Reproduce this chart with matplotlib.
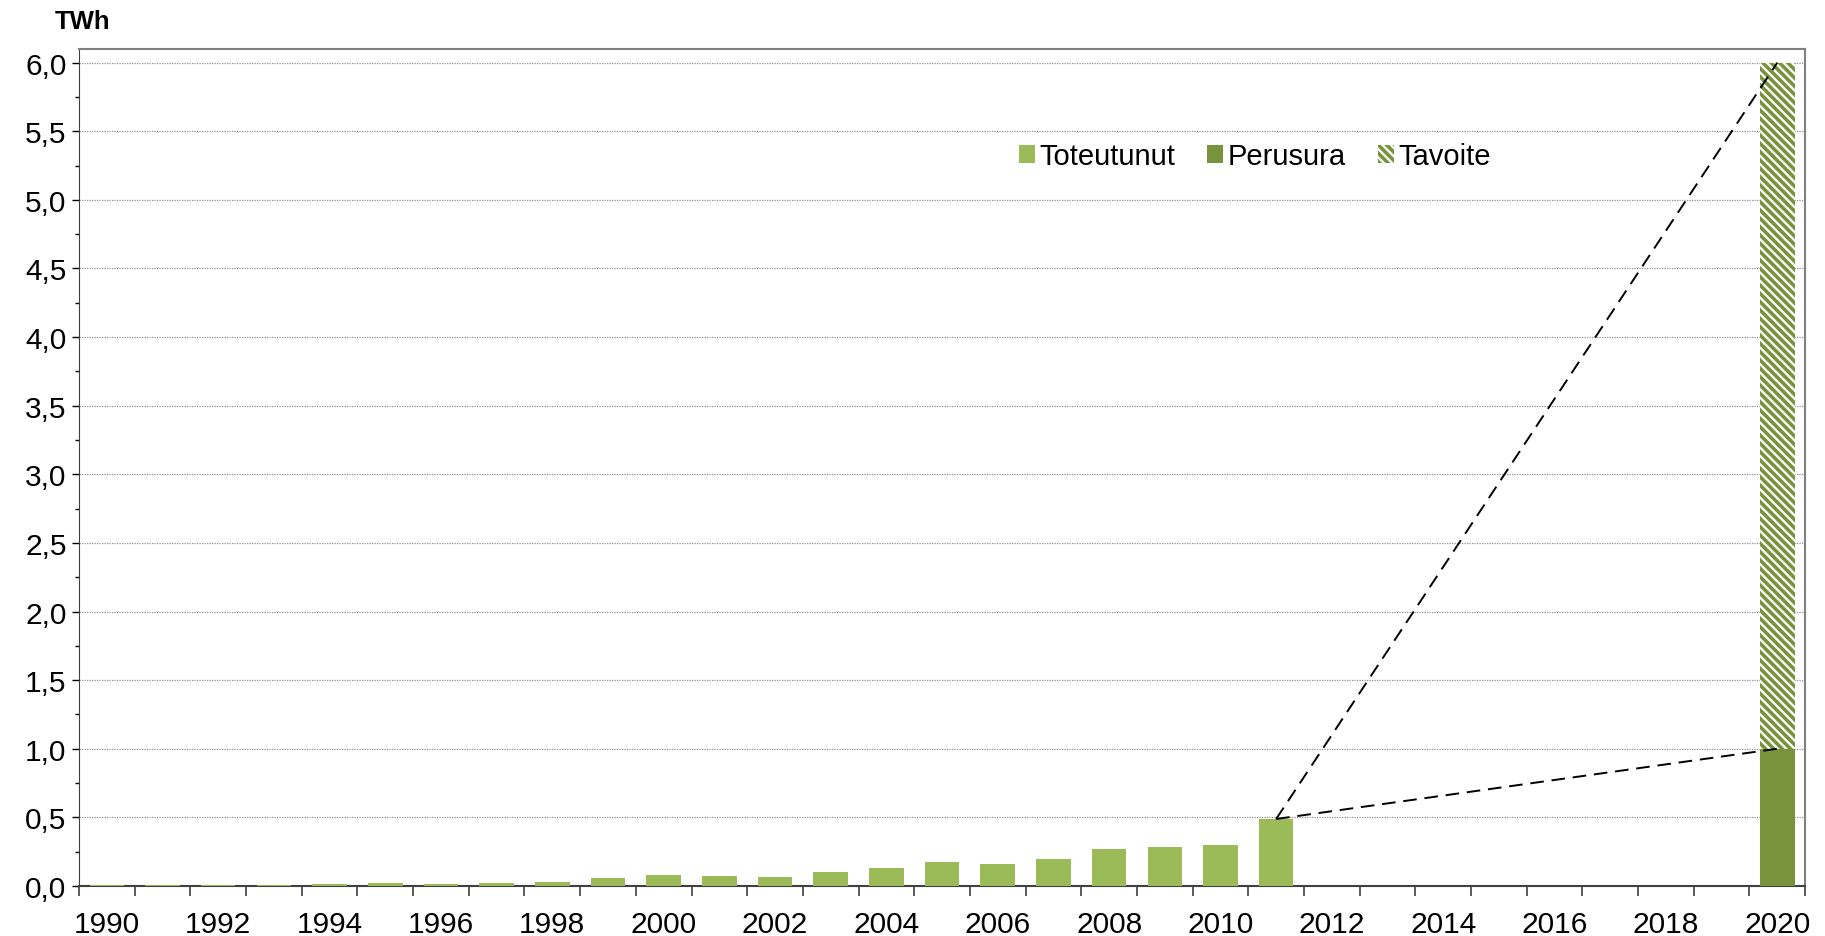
import numpy as np
import matplotlib.pyplot as plt
from matplotlib.ticker import FuncFormatter, MultipleLocator

plt.rcParams['font.family'] = ['Liberation Sans', 'DejaVu Sans']
plt.rcParams['hatch.linewidth'] = 2.6

# data
years = list(range(1990, 2021))
toteutunut = [0.007, 0.007, 0.007, 0.007, 0.017, 0.02, 0.017, 0.024, 0.032, 0.058,
              0.083, 0.075, 0.068, 0.1, 0.129, 0.177, 0.16, 0.197, 0.267, 0.284,
              0.301, 0.488]
perusura_2020 = 1.0
tavoite_2020 = 5.0

green_light = '#9BBB59'
green_dark = '#77933C'

fig = plt.figure(figsize=(18.25, 9.37), dpi=100)
ax = fig.add_axes([0.0433, 0.0534, 0.9458, 0.8933])

x = np.arange(len(years))
n = len(toteutunut)
ax.bar(x[:n], toteutunut, width=0.62, color=green_light, label='Toteutunut', zorder=3)
ax.bar(x[-1], perusura_2020, width=0.62, color=green_dark, label='Perusura', zorder=3)
ax.bar(x[-1], tavoite_2020, bottom=perusura_2020, width=0.62, color='white',
       edgecolor=green_dark, hatch='\\\\\\\\', linewidth=0, label='Tavoite', zorder=3)

# dashed connector lines
ax.plot([x[n - 1], x[-1]], [toteutunut[-1], perusura_2020 + tavoite_2020],
        color='black', ls=(0, (7, 4)), lw=1.4, zorder=4)
ax.plot([x[n - 1], x[-1]], [toteutunut[-1], perusura_2020],
        color='black', ls=(0, (7, 4)), lw=1.4, zorder=4)

ax.set_xlim(-0.5, len(years) - 0.5)
ax.set_ylim(0, 6.1)

# y axis
ax.set_yticks(np.arange(0, 6.01, 0.5))
ax.yaxis.set_minor_locator(MultipleLocator(0.25))
ax.yaxis.set_major_formatter(FuncFormatter(lambda v, p: f'{v:.1f}'.replace('.', ',')))
ax.grid(axis='y', color='#909090', ls=(0, (1, 1)), lw=0.9, zorder=0)
ax.tick_params(axis='y', which='major', length=5, width=1, labelsize=21.5, pad=4)
ax.tick_params(axis='y', which='minor', length=3, width=1)

# x axis: labels every other year, tick marks between categories
ax.set_xticks(x[::2])
ax.set_xticklabels([str(y) for y in years[::2]])
ax.set_xticks(np.arange(-0.5, len(years), 1), minor=True)
ax.tick_params(axis='x', which='major', length=0, labelsize=21.5, pad=17)
ax.tick_params(axis='x', which='minor', length=7, width=1.2, color='#404040')

for s in ['top', 'right']:
    ax.spines[s].set_color('#808080')
    ax.spines[s].set_linewidth(1.5)
ax.spines['left'].set_color('#404040')
ax.spines['bottom'].set_color('#404040')
ax.spines['bottom'].set_linewidth(1.5)

fig.text(0.030, 0.977, 'TWh', fontsize=18.5, fontweight='bold', va='center')

ax.legend(loc='center', bbox_to_anchor=(0.681, 0.872), ncol=3, frameon=False,
          fontsize=21, handlelength=0.55, handleheight=0.55, handletextpad=0.15,
          columnspacing=1.1)

fig.savefig('out.png', dpi=100)
